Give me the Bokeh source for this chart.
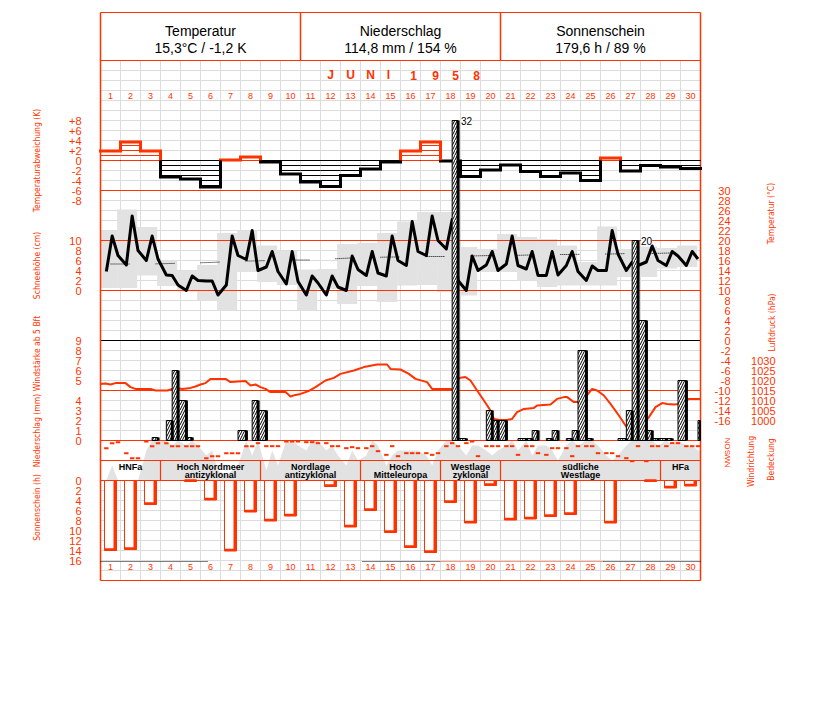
import numpy as np
from bokeh.plotting import figure
from bokeh.models import Range1d
from bokeh.core.properties import value
from bokeh.embed import file_html
from bokeh.resources import INLINE

# ---------------------------------------------------------------- data
days = list(range(1, 31))
month_chars = ["J", "U", "N", "I", "1", "9", "5", "8"]
header_titles = ["Temperatur", "Niederschlag", "Sonnenschein"]
header_values = ["15,3°C / -1,2 K", "114,8 mm / 154 %", "179,6 h / 89 %"]

# daily mean temperature deviation (K)
temp_dev = [1.9, 3.7, 1.9, -3.3, -3.7, -5.3, 0.1, 0.7, -0.3, -2.7,
            -4.3, -5.2, -3.0, -1.7, -0.3, 1.9, 3.7, -0.1, -3.2, -1.9,
            -0.9, -2.2, -3.2, -2.5, -4.0, 0.5, -2.1, -1.0, -1.3, -1.6]
# temperature at the observation terms 7h, 14h, 21h (°C)
obs_hours = [7, 14, 21]
temp_07 = [13.8, 15.1, 16.0, 13.1, 10.0, 11.9, 11.1, 16.2, 14.7, 11.3,
           9.1, 9.1, 10.0, 13.0, 12.9, 15.0, 17.0, 18.3, 10.0, 15.1,
           15.3, 14.3, 13.0, 15.0, 12.0, 14.0, 14.0, 15.7, 15.0, 15.0]
temp_14 = [20.9, 24.9, 20.9, 13.0, 12.9, 11.9, 20.9, 22.0, 17.8, 17.8,
           12.9, 12.9, 16.9, 17.8, 20.9, 23.8, 24.9, 24.2, 16.9, 17.8,
           20.9, 17.8, 17.8, 17.8, 14.9, 22.0, 15.7, 18.9, 17.8, 17.8]
temp_21 = [17.0, 18.0, 16.3, 11.1, 12.0, 9.1, 17.0, 14.0, 13.8, 11.8,
           11.5, 10.7, 14.2, 13.5, 16.0, 17.8, 20.0, 12.0, 14.0, 14.0,
           15.0, 13.0, 13.1, 13.8, 14.0, 17.3, 15.0, 16.0, 16.9, 16.3]
temp_max = [22.0, 26.2, 22.7, 16.0, 14.0, 15.1, 21.5, 22.0, 19.0, 18.0,
            14.2, 14.3, 19.3, 19.5, 21.5, 23.8, 25.7, 25.7, 18.7, 18.3,
            21.3, 20.7, 20.3, 19.0, 15.7, 22.8, 18.3, 18.8, 18.5, 19.0]
temp_min = [10.5, 10.5, 13.0, 10.9, 9.8, 8.0, 6.0, 13.7, 11.7, 11.1,
            6.0, 10.3, 7.3, 10.9, 7.7, 11.0, 11.1, 9.7, 9.0, 13.7,
            13.7, 12.0, 10.7, 11.0, 11.0, 11.0, 12.7, 12.7, 14.4, 14.7]
temp_norm = [15.3, 15.3, 15.3, 15.4, 15.5, 15.6, 15.8, 15.9, 16.0, 16.1,
             16.1, 16.3, 16.5, 16.6, 16.7, 16.7, 16.8, 16.8, 16.9, 17.0,
             17.0, 17.1, 17.2, 17.2, 17.3, 17.3, 17.4, 17.4, 17.5, 17.5]

# precipitation per term interval (mm): 7-14h, 14-21h, 21-7h
precip_07_14 = [0, 0, 0, 2.0, 0.3, 0, 0, 0, 0, 0,
                0, 0, 0, 0, 0, 0, 0, 0, 0, 3.0,
                0, 0.2, 0.2, 0.2, 0.2, 0, 3.0, 1.0, 0.2, 0]
precip_14_21 = [0, 0, 0.3, 7.0, 0, 0, 0, 4.0, 0, 0,
                0, 0, 0, 0, 0, 0, 0, 32.0, 0, 2.0,
                0, 1.0, 1.0, 1.0, 0, 0, 20.0, 0.2, 0, 0]
precip_21_07 = [0, 0, 0, 4.0, 0, 0, 1.0, 3.0, 0, 0,
                0, 0, 0, 0, 0, 0, 0, 0.2, 0, 2.0,
                0.2, 0, 0, 9.0, 0, 0.2, 12.0, 0.2, 6.0, 2.0]

# air pressure (time in days since 1 June 0h, hPa)
pres_time = [0.0, 0.25, 0.5, 0.75, 1.25, 1.5, 1.75, 2.5, 2.75, 3.35,
             3.75, 4.1, 4.5, 4.75, 5.0, 5.25, 5.5, 6.25, 6.5, 7.25,
             7.5, 7.75, 8.0, 8.25, 8.5, 9.25, 9.5, 9.75, 10.0, 10.4,
             10.75, 11.25, 11.67, 12.0, 12.67, 13.17, 13.83, 14.33, 14.5, 15.0,
             15.42, 15.75, 16.33, 16.58, 17.5, 17.67, 17.92, 18.25, 18.5, 18.83,
             19.17, 19.5, 19.67, 20.0, 20.33, 20.58, 20.83, 21.17, 21.67, 21.83,
             22.5, 22.83, 23.17, 23.33, 23.67, 24.0, 24.25, 24.58, 24.83, 25.17,
             25.5, 25.92, 26.25, 26.5, 26.75, 27.08, 27.42, 27.75, 28.08, 28.33,
             28.67, 29.0, 29.42, 30.0]
pres_hpa = [1018.3, 1018.5, 1018.0, 1018.7, 1018.7, 1016.7, 1015.8, 1015.8, 1015.0, 1015.0,
            1016.3, 1015.8, 1016.3, 1017.0, 1018.0, 1018.7, 1020.8, 1020.8, 1019.2, 1019.7,
            1017.5, 1018.0, 1016.7, 1015.8, 1014.2, 1014.2, 1012.0, 1012.8, 1013.3, 1014.7,
            1016.7, 1020.0, 1021.3, 1023.3, 1025.0, 1026.7, 1028.0, 1028.0, 1025.8, 1025.5,
            1023.3, 1020.8, 1019.2, 1015.8, 1015.8, 1015.3, 1021.3, 1021.7, 1020.0, 1015.0,
            1010.0, 1005.0, 1000.8, 1000.3, 1000.3, 1000.8, 1004.2, 1005.8, 1006.3, 1007.5,
            1008.0, 1010.8, 1011.7, 1011.7, 1009.2, 1009.2, 1011.7, 1015.8, 1015.0, 1012.5,
            1008.3, 1002.5, 997.5, 994.2, 995.3, 997.5, 1001.7, 1006.7, 1008.7, 1008.3,
            1008.0, 1008.3, 1010.8, 1010.8]

# wind direction at 7h, 14h, 21h (degrees, N=0, O=90, S=180, W=270)
wind_dir_07 = [115, 190, 15, 40, 85, 265, 190, 85, 85, 15,
               25, 40, 115, 115, 215, 190, 190, 85, 40, 85,
               85, 85, 215, 115, 85, 190, 265, 310, 85, 85]
wind_dir_14 = [40, 265, 85, 85, 85, 235, 190, 85, 85, 15,
               25, 85, 100, 85, 85, 190, 215, 40, 15, 85,
               85, 85, 115, 235, 85, 190, 310, 85, 40, 85]
wind_dir_21 = [25, 265, 40, 85, 85, 235, 190, 40, 85, 15,
               40, 85, 115, 160, 235, 190, 190, 85, 235, 85,
               215, 190, 115, 85, 190, 235, 85, 85, 40, 85]

# cloud cover at 7h, 14h, 21h (octas)
cloud_07 = [0, 0, 6, 8, 7, 5, 1, 8, 2, 8, 6, 6, 3, 5, 3,
            6, 5, 8, 5, 6, 7, 8, 7, 7, 8, 5, 7, 8, 8, 7]
cloud_14 = [3, 0, 8, 7, 8, 6, 2, 5, 6, 8, 8, 7, 6, 8, 5,
            6, 3, 8, 7, 5, 8, 5, 6, 8, 8, 4, 8, 8, 7, 7]
cloud_21 = [0, 0, 8, 8, 7, 2, 3, 8, 3, 7, 8, 5, 4, 7, 6,
            6, 6, 7, 7, 6, 6, 7, 4, 7, 7, 5, 8, 7, 8, 6]

# sunshine duration (h)
sunshine = [14.0, 13.8, 4.8, 0, 0.2, 3.9, 14.1, 6.3, 8.1, 7.1,
            0, 1.2, 9.3, 6.0, 10.4, 13.4, 14.4, 4.4, 8.5, 1.0,
            7.9, 7.7, 7.2, 6.8, 0, 8.5, 0, 0.2, 1.5, 1.1]

# Grosswetterlagen
wl_line1 = ["HNFa", "Hoch Nordmeer", "Nordlage", "Hoch", "Westlage", "südliche", "HFa"]
wl_line2 = ["", "antizyklonal", "antizyklonal", "Mitteleuropa", "zyklonal", "Westlage", ""]
wl_first_day = [1, 4, 9, 14, 18, 21, 29]
wl_last_day = [3, 8, 13, 17, 20, 28, 30]

# dotted marker periods at the bottom (in days)
mark_start = [0.0, 13.1, 17.0, 25.15]
mark_end = [5.35, 17.0, 25.15, 30.0]
mark_color = ["black", "black", "red", "black"]

# tick labels
dev_ticks = [8, 6, 4, 2, 0, -2, -4, -6, -8]
dev_labels = ["+8", "+6", "+4", "+2", "0", "-2", "-4", "-6", "-8"]
snow_ticks = [0, 2, 4, 6, 8, 10]
wind_ticks = [5, 6, 7, 8, 9]
precip_ticks = [0, 1, 2, 3, 4]
sun_ticks = [0, 2, 4, 6, 8, 10, 12, 14, 16]
temp_ticks = list(range(30, -17, -2))
pres_ticks = [1030, 1025, 1020, 1015, 1010, 1005, 1000]
compass = ["N", "O", "S", "W", "N"]
compass_deg = [0, 90, 180, 270, 360]

# ---------------------------------------------------------------- style
RED = "#ff3300"
GRID = "#dcdcdc"
FILL = "#e2e2e2"
FONT = value("Liberation Sans")
NARROW = value("DejaVu Sans Condensed, Liberation Sans")

OFF = 0                    # page offset of the canvas
W, H = 820, 690
PX_DAY = 20.0              # pixels per day
X0 = -(100 - OFF) / PX_DAY  # t = 0 at page x = 100

p = figure(width=W, height=H, output_backend="svg", toolbar_location=None,
           x_range=Range1d(X0, X0 + W / PX_DAY), y_range=Range1d(OFF + H, OFF),
           x_axis_location=None, y_axis_location=None,
           min_border=0, min_border_left=0, min_border_right=0,
           min_border_top=0, min_border_bottom=0)
p.grid.visible = False
p.outline_line_color = None
p.background_fill_color = "white"
p.border_fill_color = "white"


def rng(y0, v0, k):
    """Range whose value v sits at page y = y0 - k*(v - v0)."""
    return Range1d(start=v0 + (y0 - (OFF + H)) / k, end=v0 + (y0 - OFF) / k)


p.extra_y_ranges = {
    "dev": rng(160, 0, 5), "temp": rng(340, 0, 5), "snow": rng(290, 0, 5),
    "wind": rng(380, 5, 10), "precip": rng(440, 0, 10), "pres": rng(360, 1030, 2),
    "sun": rng(480, 0, -5), "cloud": rng(480, 0, 5), "wdir": rng(440, 0, -1 / 15.0),
}

N = len(days)
d0 = np.array(days, dtype=float) - 1.0      # start of each day (t)

# ---------------------------------------------------------------- grid (layout, page px)
hy = [y for y in range(60, 581, 10) if not (440 < y < 480)]
p.segment(x0=[0] * len(hy), x1=[30] * len(hy), y0=hy, y1=hy, line_color=GRID, line_width=1)
vx = list(range(1, 30))
p.segment(x0=vx, x1=vx, y0=[60] * len(vx), y1=[440] * len(vx), line_color=GRID, line_width=1)
p.segment(x0=vx, x1=vx, y0=[480] * len(vx), y1=[580] * len(vx), line_color=GRID, line_width=1)

# ---------------------------------------------------------------- temperature panel
left = np.clip(d0 - 1 / 6, 0, 30)
right = np.clip(d0 + 1 - 1 / 6, 0, 30)
p.quad(left=left, right=right, bottom=temp_min, top=temp_max, y_range_name="temp",
       fill_color=FILL, line_color=None)

# cloud cover area (behind wind direction / weather types)
t_obs = np.ravel(np.column_stack([d0 + h / 24 for h in obs_hours]))
cloud = np.ravel(np.column_stack([cloud_07, cloud_14, cloud_21]))
p.varea(x=np.r_[0, t_obs, 30], y1=0, y2=np.r_[cloud[0], cloud, cloud[-1]],
        y_range_name="cloud", fill_color=FILL)

# red / black panel lines
for yy, col in [(12, RED), (60, RED), (190, RED), (240, RED), (290, RED), (340, "black"),
                (390, RED), (440, RED), (460, RED), (480, RED), (580, RED)]:
    p.segment(x0=[0], x1=[30], y0=[yy], y1=[yy], line_color=col, line_width=1.2)
p.segment(x0=[0, 30, 10, 20], x1=[0, 30, 10, 20], y0=[12, 12, 12, 12], y1=[580, 580, 60, 60],
          line_color=RED, line_width=1.5)

# temperature normal (dotted) and daily curve
p.line(d0 + 0.5, temp_norm, y_range_name="temp", line_color="black", line_width=1,
       line_dash="1 1 1 1 1 1 1 1 1 1 1 1 1 1 1 1 1 1 1 26")
temp = np.ravel(np.column_stack([temp_07, temp_14, temp_21]))
p.line(t_obs, temp, y_range_name="temp", line_color="black", line_width=3, line_join="round")

# ---------------------------------------------------------------- deviation panel
hx0, hx1, hyv, hcol = [], [], [], []
for i, dv in enumerate(temp_dev):
    s = 1 if dv > 0 else -1
    col = RED if dv > 0 else "black"
    for k in range(0, int(abs(dv)) + 1):
        hx0.append(d0[i]); hx1.append(d0[i] + 1); hyv.append(s * k); hcol.append(col)
p.segment(x0=[0], x1=[30], y0=[0], y1=[0], y_range_name="dev", line_color="black", line_width=1)
p.segment(x0=hx0, x1=hx1, y0=hyv, y1=hyv, y_range_name="dev", line_color=hcol, line_width=1)
dcol = [RED if dv > 0 else "black" for dv in temp_dev]
p.segment(x0=d0, x1=d0 + 1, y0=temp_dev, y1=temp_dev, y_range_name="dev",
          line_color=dcol, line_width=3, line_cap="square")
cx, cy0, cy1, ccol = [], [], [], []
for i in range(N - 1):
    a, b = temp_dev[i], temp_dev[i + 1]
    hi, lo = max(a, b), min(a, b)
    if hi > 0:
        cx.append(d0[i] + 1); cy0.append(max(lo, 0)); cy1.append(hi); ccol.append(RED)
    if lo < 0:
        cx.append(d0[i] + 1); cy0.append(lo); cy1.append(min(hi, 0)); ccol.append("black")
p.segment(x0=cx, x1=cx, y0=cy0, y1=cy1, y_range_name="dev", line_color=ccol, line_width=3)

# ---------------------------------------------------------------- pressure
p.line(pres_time, pres_hpa, y_range_name="pres", line_color=RED, line_width=2)

# ---------------------------------------------------------------- precipitation bars
starts = [7 / 24, 14 / 24, 21 / 24]
ends = [14 / 24, 21 / 24, 31 / 24]
bl, br, bt = [], [], []
for i in range(N):
    for j, arr in enumerate([precip_07_14, precip_14_21, precip_21_07]):
        if arr[i] > 0:
            bl.append(d0[i] + starts[j]); br.append(d0[i] + ends[j]); bt.append(arr[i])
bl, br, bt = np.array(bl), np.array(br), np.array(bt)
br = np.minimum(br, 30)
p.quad(left=bl, right=br, bottom=0, top=bt, y_range_name="precip", fill_color="white",
       hatch_pattern="/", hatch_color="black", hatch_scale=5, hatch_weight=1,
       line_color="black", line_width=1)
p.quad(left=np.minimum(br - 0.07, 30), right=np.minimum(br + 0.08, 30), bottom=0, top=bt,
       y_range_name="precip", fill_color="black", line_color=None)
big = bt >= 15
p.text(x=br[big] + 0.15, y=bt[big], text=[f"{v:g}" for v in bt[big]], y_range_name="precip",
       text_font=FONT, text_font_size="10px", text_color="black", text_align="left",
       text_baseline="middle", background_fill_color="white")

# ---------------------------------------------------------------- wind direction
wdir = np.ravel(np.column_stack([wind_dir_07, wind_dir_14, wind_dir_21]))
p.rect(x=t_obs, y=wdir, width=0.22, height=2, height_units="screen", y_range_name="wdir",
       fill_color=RED, line_color=None)

# ---------------------------------------------------------------- weather types band
wl_x0 = np.array(wl_first_day) - 1.0
wl_x1 = np.array(wl_last_day, dtype=float)
p.segment(x0=wl_x1[:-1], x1=wl_x1[:-1], y0=[460] * (len(wl_x1) - 1), y1=[480] * (len(wl_x1) - 1),
          line_color=RED, line_width=1.2)
wl_mid = (wl_x0 + wl_x1) / 2
p.text(x=wl_mid, y=[466.5] * len(wl_mid), text=wl_line1, text_font=FONT, text_font_size="9px",
       text_font_style="bold", text_color="black", text_align="center", text_baseline="middle")
p.text(x=wl_mid, y=[474.5] * len(wl_mid), text=wl_line2, text_font=FONT, text_font_size="9px",
       text_font_style="bold", text_color="black", text_align="center", text_baseline="middle")

# ---------------------------------------------------------------- sunshine bars
sun = np.array(sunshine)
has = sun > 0
sl, sr = d0[has] + 0.2, d0[has] + 0.8
p.quad(left=sl, right=sr, bottom=0, top=sun[has], y_range_name="sun", fill_color="white",
       line_color=RED, line_width=1)
p.quad(left=sr - 0.15, right=sr, bottom=0, top=sun[has], y_range_name="sun",
       fill_color=RED, line_color=None)
p.quad(left=sl, right=sr, bottom=sun[has] - 0.45, top=sun[has], y_range_name="sun",
       fill_color=RED, line_color=None)

# bottom dotted markers
p.segment(x0=mark_start, x1=mark_end, y0=[561] * len(mark_start), y1=[561] * len(mark_start),
          line_color=[RED if c == "red" else "black" for c in mark_color], line_width=1,
          line_dash="1 1")

# ---------------------------------------------------------------- texts
p.text(x=[5, 15, 25], y=[30] * 3, text=header_titles, text_font=FONT, text_font_size="14px",
       text_color="black", text_align="center", text_baseline="middle")
p.text(x=[5, 15, 25], y=[47] * 3, text=header_values, text_font=FONT, text_font_size="14px",
       text_color="black", text_align="center", text_baseline="middle")
month_x = [11.5, 12.5, 13.5, 14.4, 15.65, 16.75, 17.75, 18.8]
p.text(x=month_x, y=[74.5] * len(month_chars), text=month_chars, text_font=FONT,
       text_font_size="12px", text_font_style="bold", text_color=RED, text_align="center",
       text_baseline="middle")
p.text(x=d0 + 0.5, y=[95] * N, text=[str(d) for d in days], text_font=FONT, text_font_size="9px",
       text_color=RED, text_align="center", text_baseline="middle")
p.text(x=d0 + 0.5, y=[566] * N, text=[str(d) for d in days], text_font=FONT, text_font_size="9px",
       text_color=RED, text_align="center", text_baseline="middle")

LX = -0.95
tick_kw = dict(text_font=FONT, text_font_size="11px", text_color=RED, text_baseline="middle")
p.text(x=[LX] * len(dev_ticks), y=dev_ticks, text=dev_labels, y_range_name="dev",
       text_align="right", **tick_kw)
p.text(x=[LX] * len(snow_ticks), y=snow_ticks, text=[str(v) for v in snow_ticks],
       y_range_name="snow", text_align="right", **tick_kw)
p.text(x=[LX] * len(wind_ticks), y=wind_ticks, text=[str(v) for v in wind_ticks],
       y_range_name="wind", text_align="right", **tick_kw)
p.text(x=[LX] * len(precip_ticks), y=precip_ticks, text=[str(v) for v in precip_ticks],
       y_range_name="precip", text_align="right", **tick_kw)
p.text(x=[LX] * len(sun_ticks), y=sun_ticks, text=[str(v) for v in sun_ticks],
       y_range_name="sun", text_align="right", **tick_kw)
p.text(x=[31.5] * len(temp_ticks), y=temp_ticks, text=[str(v) for v in temp_ticks],
       y_range_name="temp", text_align="right", **tick_kw)
p.text(x=[33.75] * len(pres_ticks), y=pres_ticks, text=[str(v) for v in pres_ticks],
       y_range_name="pres", text_align="right", **tick_kw)
p.text(x=[31.35] * len(compass), y=compass_deg, text=compass, y_range_name="wdir",
       text_font=FONT, text_font_size="8px", text_color=RED, text_align="center",
       text_baseline="middle", angle=np.pi / 2)

title_kw = dict(text_font=NARROW, text_font_size="8.5px", text_color=RED, text_align="center",
                text_baseline="middle", angle=np.pi / 2)
p.text(x=[-3.2] * 5, y=[160, 265, 353, 430, 507],
       text=["Temperaturabweichung (K)", "Schneehöhe (cm)", "Windstärke ab 5 Bft",
             "Niederschlag (mm)", "Sonnenschein (h)"], **title_kw)
p.text(x=[33.5, 33.55, 32.5, 33.5], y=[213, 322, 461, 459],
       text=["Temperatur (°C)", "Luftdruck (hPa)", "Windrichtung", "Bedeckung"], **title_kw)

open("out.html", "w").write(file_html(p, INLINE))
